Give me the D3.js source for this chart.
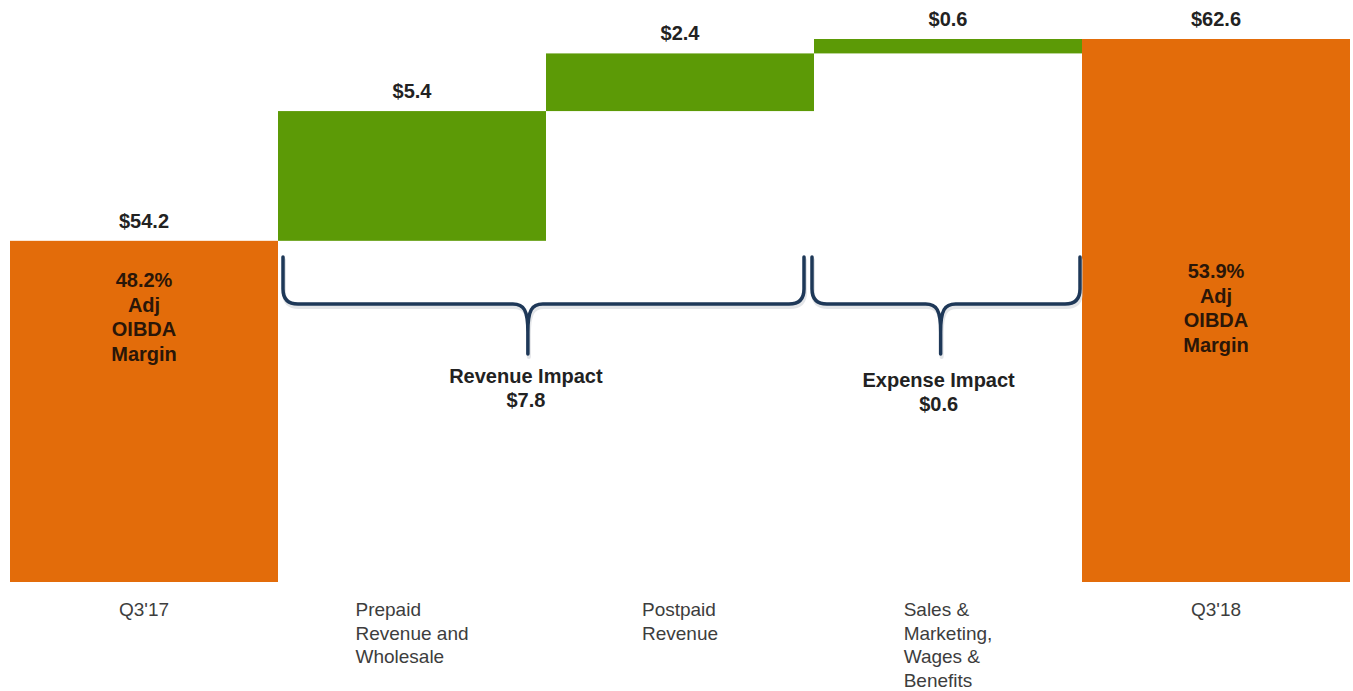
<!DOCTYPE html>
<html>
<head>
<meta charset="utf-8">
<script src="https://cdn.jsdelivr.net/npm/d3@7"></script>
<style>
  html, body { margin: 0; padding: 0; background: #ffffff; }
  svg { display: block; font-family: "Liberation Sans", Arial, sans-serif; }
</style>
</head>
<body>
<svg id="chart" width="1353" height="691"></svg>
<script>
// Adjusted OIBDA bridge, Q3'17 to Q3'18 ($M)
const categories = ["Q3'17", "Prepaid Revenue and Wholesale", "Postpaid Revenue", "Sales & Marketing, Wages & Benefits", "Q3'18"];
const categoryLines = [["Q3'17"], ["Prepaid", "Revenue and", "Wholesale"], ["Postpaid", "Revenue"], ["Sales &", "Marketing,", "Wages &", "Benefits"], ["Q3'18"]];
const values = [54.2, 5.4, 2.4, 0.6, 62.6];
const kinds = ["total", "delta", "delta", "delta", "total"];
const valueLabels = ["$54.2", "$5.4", "$2.4", "$0.6", "$62.6"];
const marginLabels = ["48.2%", null, null, null, "53.9%"];
const marginCaption = ["Adj", "OIBDA", "Margin"];
const impactLabels = ["Revenue Impact", "Expense Impact"];
const impactValues = ["$7.8", "$0.6"];
const impactFirst = [1, 3];
const impactLast = [2, 3];
const axisFloor = 40;

const svg = d3.select("#chart");
const ORANGE = "#E36C0A", GREEN = "#5C9A06", NAVY = "#1E3858";

const x = d3.scaleBand().domain(categories).range([10, 1350]).padding(0);
const y = d3.scaleLinear().domain([axisFloor, 62.6]).range([582, 39]);

// running totals for the waterfall
let run = 0;
const bars = categories.map((c, i) => {
  let lo, hi;
  if (kinds[i] === "total") { lo = axisFloor; hi = values[i]; run = values[i]; }
  else { lo = run; hi = run + values[i]; run = hi; }
  return { c, i, lo, hi };
});

svg.append("g").selectAll("rect").data(bars).join("rect")
  .attr("x", d => x(d.c))
  .attr("width", x.bandwidth())
  .attr("y", d => y(d.hi))
  .attr("height", d => y(d.lo) - y(d.hi))
  .attr("fill", d => kinds[d.i] === "total" ? ORANGE : GREEN);

// value labels above each bar
svg.append("g").selectAll("text").data(bars).join("text")
  .attr("x", d => x(d.c) + x.bandwidth() / 2)
  .attr("y", d => y(d.hi) - 13)
  .attr("text-anchor", "middle")
  .attr("font-size", 20).attr("font-weight", "bold").attr("fill", "#222")
  .text(d => valueLabels[d.i]);

// margin notes inside the total bars
const marginTop = { 0: 46, 4: 239 };
bars.filter(d => marginLabels[d.i]).forEach(d => {
  const t = svg.append("text")
    .attr("text-anchor", "middle")
    .attr("font-size", 20).attr("font-weight", "bold").attr("fill", "#2a1608");
  const cx = x(d.c) + x.bandwidth() / 2;
  const y0 = y(d.hi) + marginTop[d.i];
  [marginLabels[d.i]].concat(marginCaption).forEach((line, k) => {
    t.append("tspan").attr("x", cx).attr("y", y0 + k * 24.7).text(line);
  });
});

// category labels: block centred under the bar, lines left-aligned
categories.forEach((c, i) => {
  const g = svg.append("text")
    .attr("font-size", 19).attr("fill", "#3d3d3d");
  categoryLines[i].forEach((line, k) => {
    g.append("tspan").attr("x", 0).attr("y", 616 + k * 23.5).text(line);
  });
  const w = g.node().getBBox().width;
  g.attr("transform", `translate(${x(c) + x.bandwidth() / 2 - w / 2},0)`);
});

// curly braces grouping revenue and expense drivers
function bracePath(xa, xb, xt, yt, ym, yb) {
  const r = 15, s = 15;
  return `M${xa},${yt} L${xa},${ym - r} Q${xa},${ym} ${xa + r},${ym}` +
    ` L${xt - s},${ym} C${xt - 4},${ym} ${xt},${ym + 6} ${xt},${ym + 28} L${xt},${yb}` +
    ` M${xt},${ym + 28} C${xt},${ym + 6} ${xt + 4},${ym} ${xt + s},${ym}` +
    ` L${xb - r},${ym} Q${xb},${ym} ${xb},${ym - r} L${xb},${yt}`;
}
const braceFrac = [0.47, 0.48];
impactLabels.forEach((lab, j) => {
  const xa = x(categories[impactFirst[j]]) + (j === 0 ? 5 : -2);
  const xb = x(categories[impactLast[j]]) + x.bandwidth() - (j === 0 ? 10 : 2);
  const xt = xa + (xb - xa) * braceFrac[j];
  const p = bracePath(xa, xb, xt, 257, 304, 354);
  svg.append("path").attr("d", p).attr("fill", "none")
    .attr("stroke", "#c8ccd2").attr("stroke-width", 4).attr("stroke-linecap", "round")
    .attr("transform", "translate(1,3)").attr("opacity", 0.5);
  svg.append("path").attr("d", p).attr("fill", "none")
    .attr("stroke", NAVY).attr("stroke-width", 3.5)
    .attr("stroke-linecap", "round").attr("stroke-linejoin", "round");
  const t = svg.append("text").attr("text-anchor", "middle")
    .attr("font-size", 20).attr("font-weight", "bold").attr("fill", "#222");
  t.append("tspan").attr("x", xt - 2).attr("y", 383 + j * 4).text(lab);
  t.append("tspan").attr("x", xt - 2).attr("y", 407 + j * 4).text(impactValues[j]);
});
</script>
</body>
</html>
